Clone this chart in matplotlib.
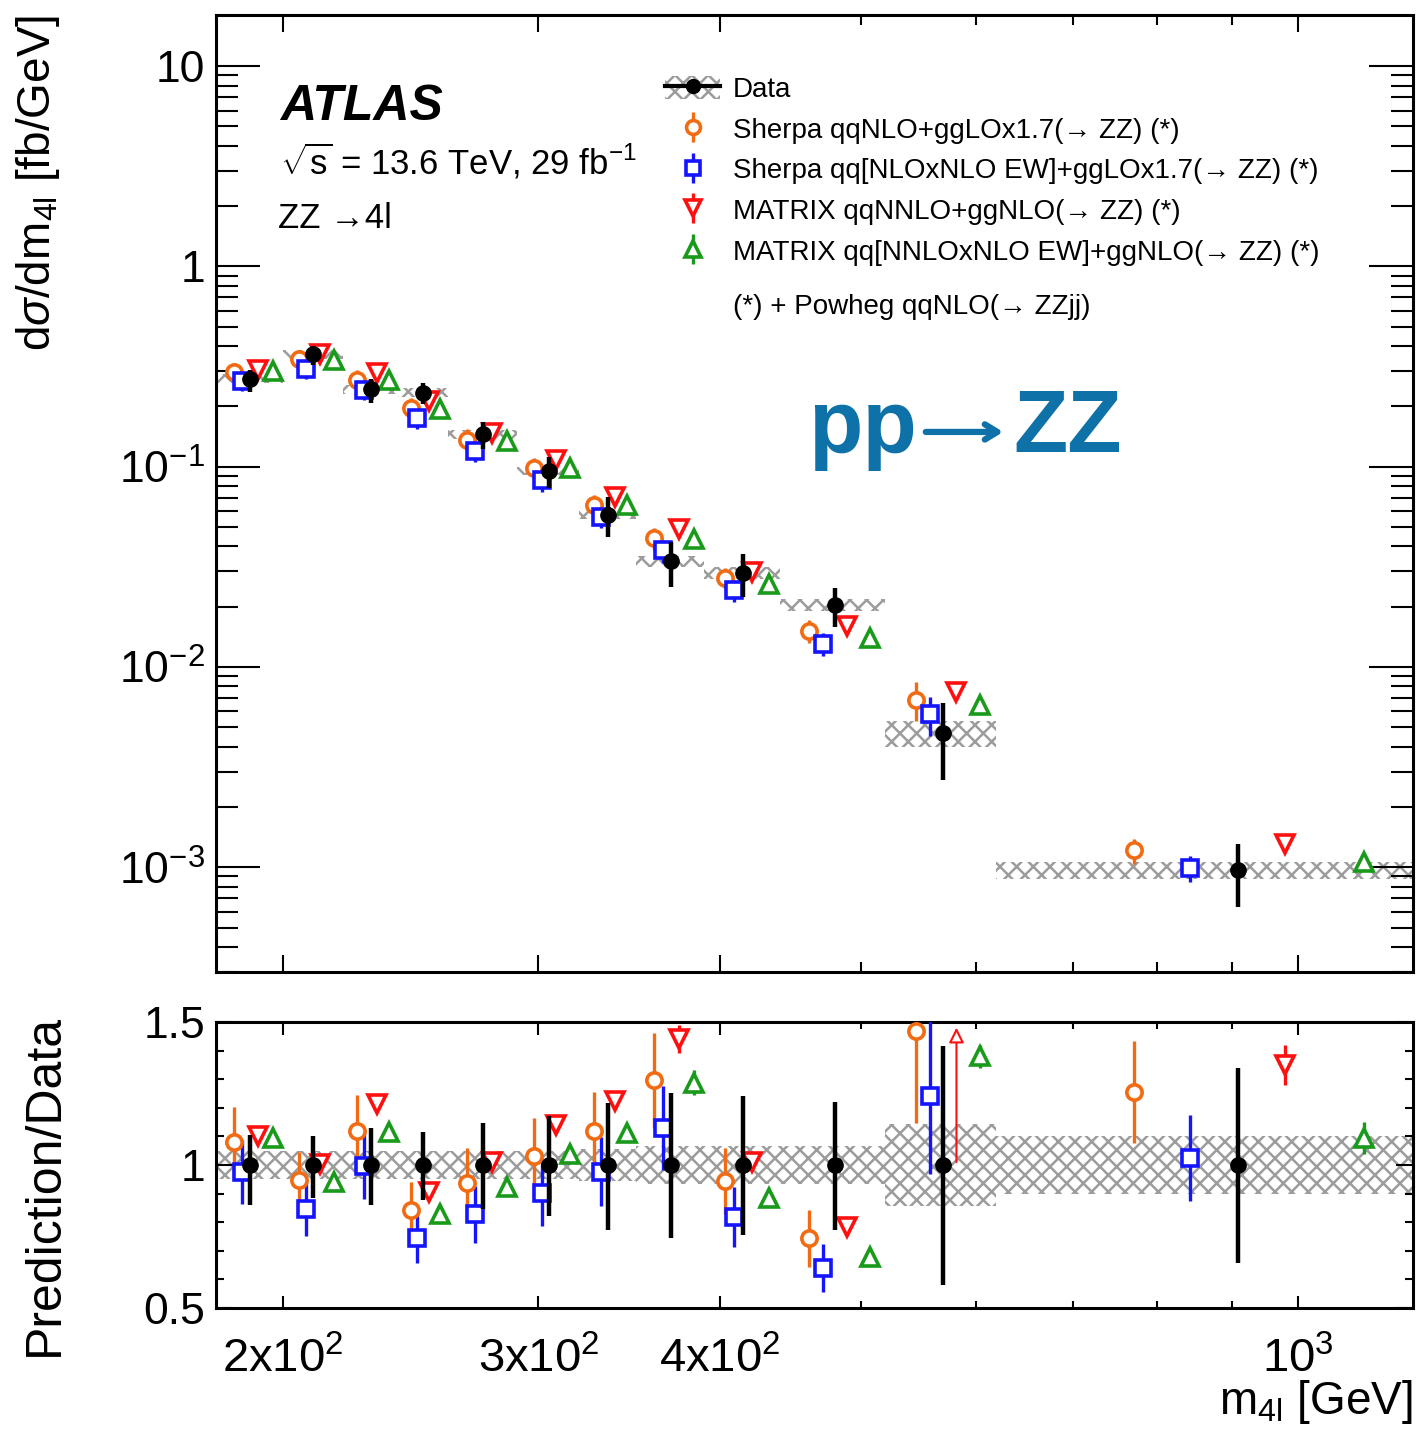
import numpy as np
import matplotlib
matplotlib.use('Agg')
import matplotlib.pyplot as plt
from matplotlib.patches import Patch
from matplotlib.lines import Line2D
from matplotlib.legend_handler import HandlerTuple

plt.rcParams['font.family'] = ['Liberation Sans', 'DejaVu Sans']
plt.rcParams['mathtext.fontset'] = 'custom'
plt.rcParams['mathtext.rm'] = 'Liberation Sans'
plt.rcParams['mathtext.it'] = 'Liberation Sans:italic'
plt.rcParams['mathtext.bf'] = 'Liberation Sans:bold'
plt.rcParams['hatch.linewidth'] = 1.8

# m4l binning [GeV]
edges = [180, 200, 220, 240, 260, 290, 320, 350, 390, 440, 520, 620, 1200]

# measured dsigma/dm4l [fb/GeV] with relative errors
data = [0.275, 0.364, 0.243, 0.234, 0.145, 0.0952, 0.0577, 0.0338, 0.0295, 0.0204, 0.00468, 0.00097]
data_up = [0.105, 0.10, 0.13, 0.117, 0.147, 0.17, 0.218, 0.25, 0.24, 0.219, 0.415, 0.34]
data_dn = [0.14, 0.116, 0.14, 0.123, 0.155, 0.18, 0.228, 0.255, 0.246, 0.228, 0.42, 0.344]
syst = [0.05, 0.05, 0.05, 0.05, 0.05, 0.05, 0.055, 0.065, 0.065, 0.065, 0.145, 0.10]

# predictions as ratio to data, with errors
sherpa = [1.082, 0.947, 1.12, 0.842, 0.938, 1.03, 1.12, 1.296, 0.945, 0.744, 1.468, 1.254]
sherpa_err = [0.12, 0.10, 0.125, 0.10, 0.12, 0.135, 0.135, 0.167, 0.115, 0.10, 0.32, 0.178]
sherpa_ew = [0.976, 0.846, 0.996, 0.744, 0.828, 0.903, 0.977, 1.13, 0.818, 0.64, 1.24, 1.024]
sherpa_ew_err = [0.113, 0.093, 0.115, 0.088, 0.10, 0.115, 0.12, 0.147, 0.105, 0.085, 0.27, 0.15]
matrix = [1.10, 1.005, 1.214, 0.906, 1.012, 1.14, 1.222, 1.44, 1.012, 0.784, 1.60, 1.35]
matrix_err = [0.02, 0.02, 0.02, 0.02, 0.02, 0.025, 0.025, 0.05, 0.025, 0.025, 0.05, 0.07]
matrix_ew = [1.095, 0.94, 1.117, 0.828, 0.924, 1.04, 1.112, 1.288, 0.884, 0.68, 1.38, 1.095]
matrix_ew_err = [0.02, 0.02, 0.02, 0.02, 0.02, 0.025, 0.025, 0.043, 0.025, 0.025, 0.04, 0.055]

labels = ['Sherpa qqNLO+ggLOx1.7(→ ZZ) (*)',
          'Sherpa qq[NLOxNLO EW]+ggLOx1.7(→ ZZ) (*)',
          'MATRIX qqNNLO+ggNLO(→ ZZ) (*)',
          'MATRIX qq[NNLOxNLO EW]+ggNLO(→ ZZ) (*)']

edges = np.array(edges, dtype=float)
data = np.array(data)
syst = np.array(syst)
lo, hi = edges[:-1], edges[1:]
width = hi - lo

# each prediction sits at its own fraction of the bin
models = [
    (np.array(sherpa), np.array(sherpa_err), '#f26b12', 'o', 11, 0.26),
    (np.array(sherpa_ew), np.array(sherpa_ew_err), '#1414ff', 's', 11, 0.385),
    (np.array(matrix), np.array(matrix_err), '#ff1010', 'v', 13, 0.62),
    (np.array(matrix_ew), np.array(matrix_ew_err), '#1a9a1a', '^', 13, 0.845),
]
xdata = lo + 0.5 * width

fig = plt.figure(figsize=(14.25, 14.41), dpi=100)
ax = fig.add_axes([0.1516, 0.3255, 0.840, 0.6641])
rx = fig.add_axes([0.1516, 0.0923, 0.840, 0.1985], sharex=ax)

band_col = '#9c9c9c'
hatch_kw = dict(align='edge', facecolor='none', edgecolor=band_col, hatch='xx', linewidth=0, zorder=1)

# top panel
ax.bar(lo, 2 * syst * data, bottom=data * (1 - syst), width=width, **hatch_kw)
for ratio, err, c, m, ms, frac in models:
    xm = lo + frac * width
    ax.errorbar(xm, ratio * data, yerr=err * data, fmt=m, color=c, mfc='white', mec=c,
                ms=ms, mew=2.6, elinewidth=2.4, capsize=0, zorder=3)
ax.errorbar(xdata, data, yerr=[data * np.array(data_dn), data * np.array(data_up)], fmt='o',
            color='black', ms=11, elinewidth=3.2, capsize=0, zorder=4)

ax.set_xscale('log')
ax.set_yscale('log')
ax.set_xlim(180, 1200)
ax.set_ylim(3e-4, 18)

ax.set_yticks([1e-3, 1e-2, 1e-1, 1, 10], labels=['$10^{-3}$', '$10^{-2}$', '$10^{-1}$', '1', '10'])
ax.yaxis.set_minor_locator(matplotlib.ticker.LogLocator(subs=np.arange(2, 10)))
ax.yaxis.set_minor_formatter(matplotlib.ticker.NullFormatter())
ax.tick_params(axis='both', which='both', direction='in', top=True, right=True, width=1.5)
ax.tick_params(axis='y', which='major', length=32, labelsize=32, pad=8)
ax.tick_params(axis='y', which='minor', length=16)
ax.tick_params(axis='x', which='major', length=12, labelbottom=False)
ax.tick_params(axis='x', which='minor', length=7)
ax.set_ylabel('d$\\sigma$/dm$_{\\mathrm{4l}}$ [fb/GeV]', fontsize=33, loc='top')
ax.yaxis.set_label_coords(-0.129, 1.0)

# legend
handles = [(Patch(facecolor='none', edgecolor=band_col, hatch='xx', linewidth=0),
            Line2D([], [], color='black', marker='o', ms=10, lw=3))]
for ratio, err, c, m, ms, frac in models:
    handles.append((Line2D([], [], color=c, marker='|', ls='none', ms=22, mew=2.4),
                    Line2D([], [], color=c, marker=m, mfc='white', mec=c, ls='none', ms=ms - 1, mew=2.6)))
ax.legend(handles, ['Data'] + labels, handler_map={tuple: HandlerTuple(ndivide=1)},
          loc='upper left', bbox_to_anchor=(0.375, 0.9365), frameon=False, fontsize=20,
          borderpad=0, borderaxespad=0, handlelength=2.0, handleheight=0.9,
          handletextpad=0.45, labelspacing=0.49)
ax.text(0.4319, 0.6949, '(*) + Powheg qqNLO(→ ZZjj)', transform=ax.transAxes, fontsize=20, va='center')

ax.text(0.0535, 0.8903, 'ATLAS', transform=ax.transAxes, fontsize=36, fontweight='bold', style='italic')
ax.text(0.0535, 0.8328, '$\\sqrt{\\mathrm{s}}$ = 13.6 TeV, 29 fb$^{-1}$', transform=ax.transAxes, fontsize=25)
ax.text(0.052, 0.7774, 'ZZ →4l', transform=ax.transAxes, fontsize=25)

# process tag: pp -> ZZ
tag_col = '#0e72a8'
ax.text(0.4946, 0.5434, 'pp', transform=ax.transAxes, fontsize=64, fontweight='bold', color=tag_col)
ax.annotate('', xy=(0.6600, 0.5643), xytext=(0.5906, 0.5643), xycoords='axes fraction',
            arrowprops=dict(arrowstyle='->,head_length=0.9,head_width=0.55', color=tag_col, lw=4.5))
ax.text(0.6658, 0.5434, 'ZZ', transform=ax.transAxes, fontsize=64, fontweight='bold', color=tag_col)

# ratio panel
rx.bar(lo, 2 * syst, bottom=1 - syst, width=width, **hatch_kw)
ylo, yhi = 0.5, 1.5
for ratio, err, c, m, ms, frac in models:
    xm = lo + frac * width
    rx.errorbar(xm, ratio, yerr=err, fmt=m, color=c, mfc='white', mec=c,
                ms=ms, mew=2.6, elinewidth=2.4, capsize=0, zorder=3)
    over = ratio > yhi
    for xo in xm[over]:
        rx.annotate('', xy=(xo, yhi - 0.01), xytext=(xo, 1.0),
                    arrowprops=dict(arrowstyle='-|>,head_length=0.9,head_width=0.45',
                                    color=c, fc='white', lw=1.5), zorder=3)
rx.errorbar(xdata, np.ones_like(data), yerr=[data_dn, data_up], fmt='o', color='black',
            ms=11, elinewidth=3.2, capsize=0, zorder=4)
rx.set_ylim(ylo, yhi)
rx.set_yticks([0.5, 1.0, 1.5], labels=['0.5', '1', '1.5'])
rx.yaxis.set_minor_locator(matplotlib.ticker.MultipleLocator(0.1))
rx.set_xticks([200, 300, 400, 1000], labels=['2x10$^{2}$', '3x10$^{2}$', '4x10$^{2}$', '10$^{3}$'])
rx.set_xticks([500, 600, 700, 800, 900], minor=True)
rx.xaxis.set_minor_formatter(matplotlib.ticker.NullFormatter())
rx.tick_params(axis='both', which='both', direction='in', top=True, right=True, width=1.5)
rx.tick_params(axis='y', which='major', length=12, labelsize=32, pad=8)
rx.tick_params(axis='y', which='minor', length=6)
rx.tick_params(axis='x', which='major', length=9, labelsize=34, pad=21)
rx.tick_params(axis='x', which='minor', length=5)
rx.set_ylabel('Prediction/Data', fontsize=36, loc='top')
rx.yaxis.set_label_coords(-0.124, 1.03)
rx.set_xlabel('m$_{\\mathrm{4l}}$ [GeV]', fontsize=33, loc='right')
rx.xaxis.set_label_coords(1.0, -0.245)

for a in (ax, rx):
    for s in a.spines.values():
        s.set_linewidth(2.2)

fig.savefig('out.png', dpi=100)
